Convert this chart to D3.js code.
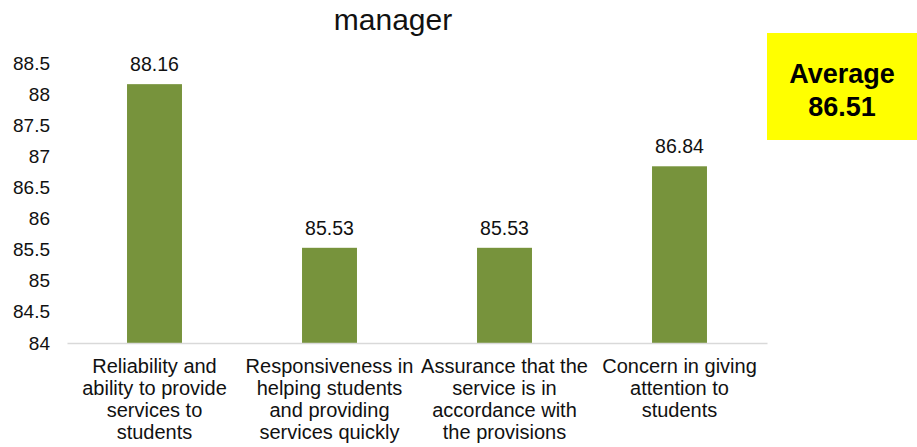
<!DOCTYPE html>
<html lang="en">
<head>
<meta charset="UTF-8">
<title>manager</title>
<style>
  *{margin:0;padding:0;}
  body{background:#fff;}
  #container{width:917px;height:447px;}
  text{font-family:"Liberation Sans", Arial, sans-serif;}
</style>
</head>
<body>
<div id="container"></div>
<script src="https://cdn.jsdelivr.net/npm/d3@7"></script>
<script>
var categories = [
  "Reliability and ability to provide services to students",
  "Responsiveness in helping students and providing services quickly",
  "Assurance that the service is in accordance with the provisions",
  "Concern in giving attention to students"
]
var categoryLines = [
  ["Reliability and", "ability to provide", "services to", "students"],
  ["Responsiveness in", "helping students", "and providing", "services quickly"],
  ["Assurance that the", "service is in", "accordance with", "the provisions"],
  ["Concern in giving", "attention to", "students"]
]
var values = [88.16, 85.53, 85.53, 86.84]
var yTicks = [84, 84.5, 85, 85.5, 86, 86.5, 87, 87.5, 88, 88.5]
var title = "manager"
var averageLabel = ["Average", "86.51"]

var W = 917, H = 447
var margin = {left: 67, top: 63, right: 150, bottom: 104}
var gw = W - margin.left - margin.right,
    gh = H - margin.top - margin.bottom

var svg = d3.select('#container').append('svg').attr('width', W).attr('height', H)

svg.append('text').text(title)
  .attr('x', 393).attr('y', 30)
  .attr('text-anchor', 'middle')
  .attr('font-size', 30).attr('fill', '#111')

var g = svg.append('g').attr('transform', `translate(${margin.left},${margin.top})`)

var x = d3.scaleBand().domain(categories).range([0, gw])
  .paddingInner(0.686).paddingOuter(0.343)
var y = d3.scaleLinear().domain([84, 88.5]).range([gh, 0])

// y axis: labels only
var yAxis = d3.axisLeft(y).tickValues(yTicks).tickSize(0).tickPadding(17)
  .tickFormat(d3.format('~g'))
var ya = g.append('g').call(yAxis)
ya.select('.domain').remove()
ya.selectAll('text').attr('font-size', 19).attr('fill', '#111')
  .attr('font-family', '"Liberation Sans", Arial, sans-serif')

// bars
g.selectAll('rect.bar').data(values).enter().append('rect')
  .attr('class', 'bar')
  .attr('x', (d, i) => x(categories[i]))
  .attr('width', x.bandwidth())
  .attr('y', d => y(d))
  .attr('height', d => gh - y(d))
  .attr('fill', '#77933c')

// value labels
g.selectAll('text.val').data(values).enter().append('text')
  .attr('class', 'val')
  .attr('x', (d, i) => x(categories[i]) + x.bandwidth() / 2)
  .attr('y', d => y(d) - 13)
  .attr('text-anchor', 'middle')
  .attr('font-size', 19.5).attr('fill', '#111')
  .text(d => d3.format('.2f')(d))

// x axis baseline
var xAxis = d3.axisBottom(x).tickSize(0).tickFormat('')
var xa = g.append('g').attr('transform', `translate(0,${gh})`).call(xAxis)
xa.select('.domain').attr('stroke', '#d9d9d9').attr('stroke-width', 1.5)

// category labels
var lab = g.selectAll('text.cat').data(categories).enter().append('text')
  .attr('class', 'cat')
  .attr('text-anchor', 'middle')
  .attr('font-size', 20).attr('fill', '#111')
lab.each(function(d, i) {
  var t = d3.select(this)
  categoryLines[i].forEach(function(line, j) {
    t.append('tspan')
      .attr('x', x(d) + x.bandwidth() / 2)
      .attr('y', gh + 30 + j * 22)
      .text(line)
  })
})

// average box
var box = svg.append('g')
box.append('rect').attr('x', 767).attr('y', 33).attr('width', 150).attr('height', 107)
  .attr('fill', '#ffff00')
box.selectAll('text').data(averageLabel).enter().append('text')
  .attr('x', 842)
  .attr('y', (d, i) => 83 + i * 33)
  .attr('text-anchor', 'middle')
  .attr('font-size', 27).attr('font-weight', 'bold').attr('fill', '#000')
  .text(d => d)
</script>
</body>
</html>
